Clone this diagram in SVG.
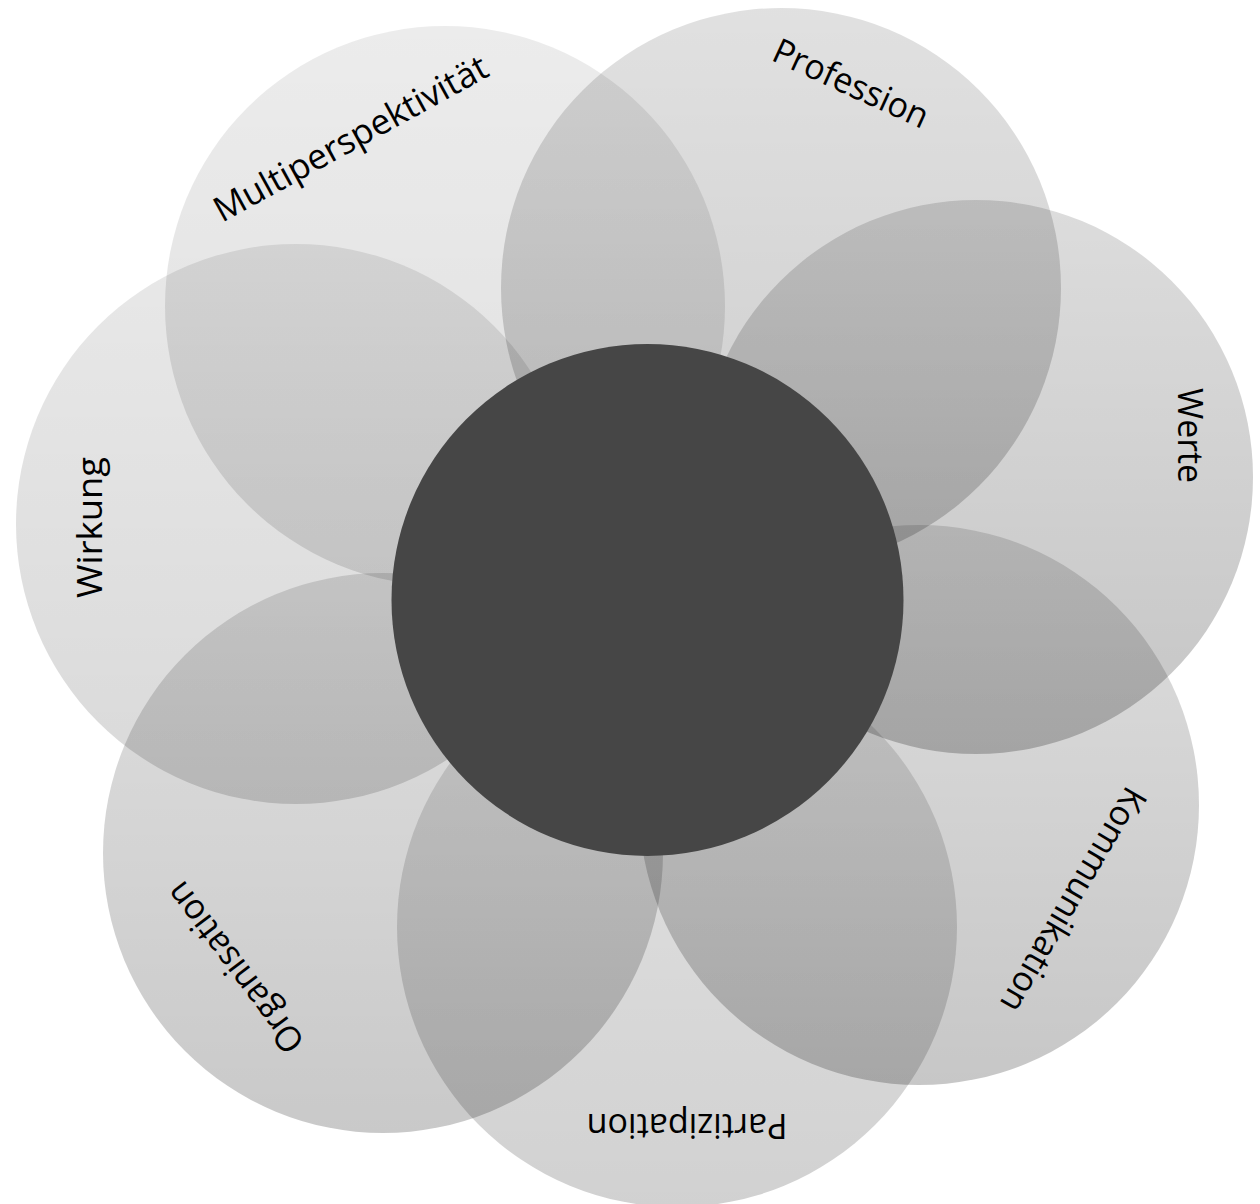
<svg xmlns="http://www.w3.org/2000/svg" width="1260" height="1204" viewBox="0 0 1260 1204">
<defs>
<linearGradient id="shade" x1="0" y1="0" x2="0" y2="1">
<stop offset="0" stop-color="#000" stop-opacity="0.6"/>
<stop offset="1" stop-color="#000" stop-opacity="1"/>
</linearGradient>
</defs>
<style>
.petal{fill:url(#shade);}
.lbl{font-family:"Open Sans","Liberation Sans",sans-serif;font-size:35px;font-weight:500;fill:#000;text-anchor:middle;}
.core{fill:#464646;}
</style>
<rect width="1260" height="1204" fill="#ffffff"/>
<g id="petals">
<g id="petal-multiperspektivitaet">
<circle class="petal" cx="445" cy="306" r="280" fill-opacity="0.124"/>
<text class="lbl" transform="translate(356.5,149) rotate(-28.8)" textLength="307" lengthAdjust="spacingAndGlyphs">Multiperspektivität</text>
</g>
<g id="petal-profession">
<circle class="petal" cx="781" cy="288" r="280" fill-opacity="0.2"/>
<text class="lbl" transform="translate(846,94.5) rotate(24.5)" textLength="167" lengthAdjust="spacingAndGlyphs">Profession</text>
</g>
<g id="petal-werte">
<circle class="petal" cx="976" cy="477" r="277" fill-opacity="0.226"/>
<text class="lbl" transform="translate(1178,435.5) rotate(90)" textLength="95" lengthAdjust="spacingAndGlyphs">Werte</text>
</g>
<g id="petal-kommunikation">
<circle class="petal" cx="919" cy="805" r="280" fill-opacity="0.22"/>
<text class="lbl" transform="translate(1063,894) rotate(120.3)" textLength="254" lengthAdjust="spacingAndGlyphs">Kommunikation</text>
</g>
<g id="petal-partizipation">
<circle class="petal" cx="677" cy="927" r="280" fill-opacity="0.18"/>
<text class="lbl" transform="translate(687,1114) rotate(180)" textLength="201" lengthAdjust="spacingAndGlyphs">Partizipation</text>
</g>
<g id="petal-organisation">
<circle class="petal" cx="383" cy="853" r="280" fill-opacity="0.21"/>
<text class="lbl" transform="translate(244.5,960.3) rotate(233)" textLength="204" lengthAdjust="spacingAndGlyphs">Organisation</text>
</g>
<g id="petal-wirkung">
<circle class="petal" cx="296" cy="524" r="280" fill-opacity="0.15"/>
<text class="lbl" transform="translate(102,527.5) rotate(-90)" textLength="141" lengthAdjust="spacingAndGlyphs">Wirkung</text>
</g>
</g>
<g id="center">
<circle class="core" cx="647.5" cy="600" r="256"/>
</g>
<g id="connectors"/>
</svg>
